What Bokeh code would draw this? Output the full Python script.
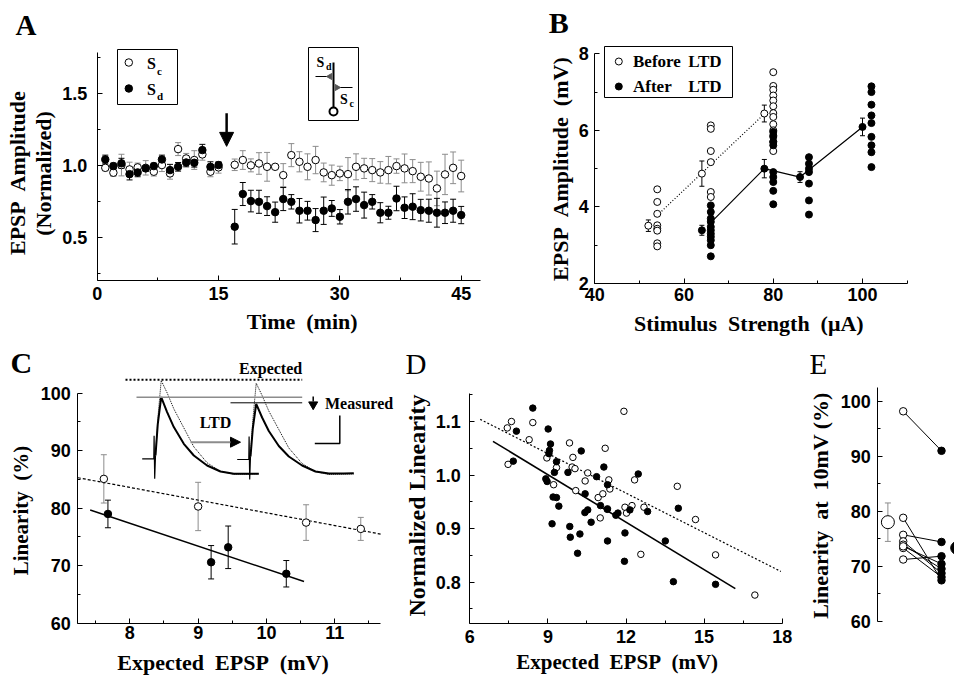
from bokeh.plotting import figure
from bokeh.layouts import column, row
from bokeh.models import (FixedTicker, NumeralTickFormatter, Label, Whisker, TeeHead,
                          ColumnDataSource, Arrow, NormalHead, Range1d)
from bokeh.embed import file_html
from bokeh.resources import INLINE
import math

SERIF = "Liberation Serif"
SANS = "Liberation Sans"
GRAY = "#8c8c8c"

# ---------------- Panel A : time course ----------------
a_time = list(range(1, 16)) + list(range(17, 46))
a_sc = [0.986, 0.952, 1.005, 0.975, 0.989, 0.986, 0.959, 1.005, 0.947, 1.116, 1.051, 1.040, 1.079, 0.959, 0.989,
        1.007, 1.040, 1.003, 1.016, 0.993, 0.993, 0.935, 1.074, 1.028, 0.993, 1.040, 0.954, 0.935, 0.947, 0.942,
        0.993, 0.982, 0.970, 0.954, 0.970, 0.998, 0.982, 0.963, 0.924, 0.912, 0.843, 0.940, 0.986, 0.929]
a_sc_err = [0.02, 0.025, 0.075, 0.05, 0.03, 0.05, 0.03, 0.045, 0.04, 0.045, 0.035, 0.065, 0.04, 0.035, 0.04,
            0.04, 0.065, 0.045, 0.075, 0.1, 0.01, 0.08, 0.08, 0.07, 0.09, 0.095, 0.065, 0.07, 0.05, 0.115,
            0.09, 0.07, 0.08, 0.075, 0.095, 0.05, 0.1, 0.08, 0.1, 0.115, 0.12, 0.14, 0.11, 0.11]
a_sd = [1.044, 0.998, 1.017, 0.942, 0.954, 0.982, 0.998, 1.044, 0.970, 0.993, 1.023, 1.021, 1.109, 0.993, 1.005,
        0.577, 0.804, 0.755, 0.750, 0.720, 0.678, 0.769, 0.750, 0.688, 0.688, 0.623, 0.688, 0.704, 0.646, 0.750,
        0.769, 0.727, 0.750, 0.674, 0.674, 0.773, 0.709, 0.716, 0.692, 0.688, 0.674, 0.674, 0.688, 0.658]
a_sd_err = [0.03, 0.02, 0.035, 0.04, 0.03, 0.02, 0.02, 0.03, 0.04, 0.03, 0.03, 0.03, 0.04, 0.035, 0.02,
            0.12, 0.08, 0.075, 0.08, 0.065, 0.07, 0.08, 0.05, 0.085, 0.065, 0.08, 0.095, 0.055, 0.05, 0.085,
            0.085, 0.09, 0.05, 0.07, 0.045, 0.085, 0.075, 0.09, 0.075, 0.08, 0.1, 0.075, 0.08, 0.06]
a_ltd_time = 16
a_arrow_from, a_arrow_to = 1.365, 1.135

# ---------------- Panel B : input-output ----------------
b_before_x = [54] * 8 + [66] * 6 + [80] * 13
b_before_y = [4.46, 4.13, 3.82, 3.52, 3.43, 3.38, 3.05, 2.97,
              6.13, 6.04, 5.46, 5.17, 4.39, 4.26,
              7.52, 7.16, 7.06, 6.91, 6.78, 6.63, 6.45, 6.35, 6.16, 6.00, 5.87, 5.70, 5.46]
b_after_x = [66] * 11 + [80] * 9 + [88] * 7 + [102] * 9
b_after_y = [4.04, 3.87, 3.70, 3.61, 3.48, 3.39, 3.30, 3.22, 3.13, 3.00, 2.71,
             5.96, 5.83, 5.70, 5.61, 4.91, 4.78, 4.65, 4.42, 4.07,
             5.30, 5.13, 5.00, 4.91, 4.61, 4.17, 3.80,
             7.15, 7.00, 6.67, 6.39, 6.19, 5.83, 5.61, 5.43, 5.04]
b_before_mean_x = [52, 64, 78]
b_before_mean = [3.51, 4.87, 6.44]
b_before_sem = [0.15, 0.33, 0.22]
b_after_mean_x = [64, 78, 86, 100]
b_after_mean = [3.39, 5.00, 4.78, 6.09]
b_after_sem = [0.13, 0.24, 0.14, 0.23]
b_before_fit_x = [54, 78]
b_before_fit_y = [3.78, 6.43]
b_after_line_x = [66.5, 78, 86, 100]
b_after_line_y = [3.65, 5.00, 4.78, 6.09]

# ---------------- Panel C : linearity vs expected ----------------
c_before_x = [7.62, 9.00, 10.58, 11.38]
c_before_y = [85.1, 80.3, 77.5, 76.4]
c_before_err = [4.2, 4.2, 3.1, 2.0]
c_after_x = [7.68, 9.19, 9.44, 10.29]
c_after_y = [79.0, 70.6, 73.2, 68.6]
c_after_err = [2.4, 2.9, 3.7, 2.3]
c_fit_before_x = [7.24, 11.67]
c_fit_before_y = [85.3, 75.5]
c_fit_after_x = [7.42, 10.55]
c_fit_after_y = [79.7, 67.25]
# inset waveforms (offsets from stimulus, inset units)
w_t = [1.7, 4, 7.4, 13.3, 20, 30, 40, 53.3, 66.7, 80, 95, 105]
w_measured_pre = [3.3, 35, 61.7, 46.7, 31.7, 15, 3.3, -6.7, -12.7, -15, -15, -15]
w_expected_pre = [3.3, 40, 78.3, 66, 50, 31, 12, -4, -12.5, -15.5, -15.5, -15]
w_measured_post = [3.0, 31, 55.7, 42, 28.5, 13.5, 3.0, -6.0, -12, -14, -14, -13.7]
w_expected_post = [3.3, 39, 76.3, 64, 48.5, 30, 11.5, -4, -12.2, -15, -14.7, -14.5]
w_art_t = [-11.6, 0, 0.3, 0.9, 1.7]
w_art_v = [0, 0, 23, -20, 3.3]

# ---------------- Panel D : normalized linearity ----------------
d_open_x = [7.44, 7.60, 8.42, 7.47, 8.28, 11.92, 9.83, 11.20, 9.96, 8.96, 9.33, 9.93, 10.04, 10.53, 10.43,
            9.22, 11.34, 11.38, 12.33, 10.07, 10.93, 11.11, 11.29, 11.96, 12.23, 12.69, 12.02, 11.01, 12.57,
            13.97, 14.67, 15.44, 16.95]
d_open_y = [1.088, 1.100, 1.098, 1.020, 1.066, 1.119, 1.060, 1.050, 1.033, 1.032, 1.014, 1.015, 1.012, 1.004,
            0.989, 0.982, 0.991, 0.974, 0.991, 0.971, 0.958, 0.965, 0.937, 0.940, 0.943, 0.940, 0.929, 0.920,
            0.852, 0.979, 0.917, 0.851, 0.776]
d_filled_x = [8.42, 7.79, 9.01, 9.10, 9.06, 9.04, 10.28, 9.33, 7.67, 9.25, 9.77, 8.92, 8.97, 11.15, 10.87,
              11.29, 10.43, 9.20, 9.33, 9.42, 12.47, 11.02, 11.28, 10.53, 10.42, 11.61, 11.69, 12.15, 12.83,
              10.66, 9.16, 9.84, 9.86, 10.23, 11.96, 10.14, 11.29, 13.51, 11.94, 14.01, 13.82, 15.44]
d_filled_y = [1.125, 1.082, 1.086, 1.058, 1.046, 1.040, 1.045, 1.025, 1.026, 1.005, 1.005, 0.993, 0.988, 1.015,
              0.997, 0.982, 0.965, 0.959, 0.958, 0.942, 1.002, 0.943, 0.936, 0.935, 0.930, 0.925, 0.929, 0.935,
              0.932, 0.912, 0.909, 0.904, 0.884, 0.890, 0.892, 0.854, 0.877, 0.877, 0.839, 0.938, 0.801, 0.796]
d_fit_open_x = [6.4, 17.95]
d_fit_open_y = [1.104, 0.820]
d_fit_filled_x = [6.89, 16.2]
d_fit_filled_y = [1.063, 0.788]

# ---------------- Panel E : linearity at 10 mV ----------------
e_before = [98.2, 78.8, 75.7, 74.5, 73.9, 73.3, 73.6, 71.2]
e_after = [91.0, 67.4, 74.4, 68.7, 69.5, 68.0, 70.4, 71.8]
e_before_mean, e_before_sem = 78.0, 3.5
e_after_mean = 73.3
e_pos = [0.6, 1.0, 2.0, 2.41]   # mean-before, before, after, mean-after


def make_panel(fig_x0, fig_y0, fig_w, fig_h, xcal, ycal):
    (v1, p1), (v2, p2) = xcal
    kx = (v2 - v1) / (p2 - p1)
    (w1, q1), (w2, q2) = ycal
    ky = (w2 - w1) / (q2 - q1)
    fx = lambda px: v1 + (px - p1) * kx
    fy = lambda py: w1 + (py - q1) * ky
    p = figure(width=fig_w, height=fig_h,
               x_range=Range1d(fx(fig_x0), fx(fig_x0 + fig_w)),
               y_range=Range1d(fy(fig_y0 + fig_h), fy(fig_y0)),
               output_backend="svg", toolbar_location=None,
               min_border_left=0, min_border_right=0, min_border_top=0, min_border_bottom=0)
    p.title.visible = False
    p.outline_line_color = None
    p.xgrid.visible = False
    p.ygrid.visible = False
    for ax in p.axis:
        ax.major_tick_in = 5
        ax.major_tick_out = 0
        ax.minor_tick_in = 3
        ax.minor_tick_out = 0
        ax.axis_line_color = "black"
        ax.major_tick_line_color = "black"
        ax.minor_tick_line_color = "black"
        ax.major_label_text_font = SANS
        ax.major_label_text_font_style = "bold"
        ax.major_label_text_font_size = "18px"
        ax.major_label_text_color = "black"
    return p, fx, fy


def lab(p, x, y, text, size, style="bold", align="left", font=SERIF, angle=0.0):
    p.add_layout(Label(x=x, y=y, text=text, text_font=font, text_font_style=style,
                       text_font_size=f"{size}px", text_align=align, text_baseline="middle",
                       text_color="black", angle=angle))


def vlab(p, x, y, text, size):
    lab(p, x, y, text, size, align="center", angle=math.pi / 2)


def whisk(p, xs, ys, es, color, head=6):
    src = ColumnDataSource(dict(x=xs, lo=[y - e for y, e in zip(ys, es)], hi=[y + e for y, e in zip(ys, es)]))
    p.add_layout(Whisker(base="x", upper="hi", lower="lo", source=src, dimension="height",
                         line_color=color, line_width=1, level="underlay",
                         upper_head=TeeHead(size=head, line_color=color, line_width=1),
                         lower_head=TeeHead(size=head, line_color=color, line_width=1)))


# ======================= A =======================
pA, ax_, ay_ = make_panel(0, 0, 490, 340, ((0, 96.7), (45, 460.7)), ((1.5, 93.3), (0.5, 237.3)))
pA.xaxis.ticker = FixedTicker(ticks=[0, 15, 30, 45], minor_ticks=[7.5, 22.5, 37.5])
pA.yaxis.ticker = FixedTicker(ticks=[0.5, 1.0, 1.5], minor_ticks=[0.25, 0.75, 1.25, 1.75])
pA.yaxis.formatter = NumeralTickFormatter(format="0.0")
pA.xaxis.fixed_location = ay_(280)
pA.yaxis.fixed_location = 0
pA.xaxis.bounds = (0, ax_(480))
pA.yaxis.bounds = (ay_(280), ay_(51.7))
pA.yaxis.major_label_standoff = 10
pA.xaxis.major_label_standoff = 6
whisk(pA, a_time, a_sc, a_sc_err, GRAY)
whisk(pA, a_time, a_sd, a_sd_err, "black")
pA.scatter(a_time, a_sc, size=7.5, marker="circle", fill_color="white", line_color="black", line_width=1)
pA.scatter(a_time, a_sd, size=7.5, marker="circle", fill_color="black", line_color="black")
pA.add_layout(Arrow(end=NormalHead(size=14, fill_color="black", line_color="black"),
                    x_start=a_ltd_time, y_start=a_arrow_from, x_end=a_ltd_time, y_end=a_arrow_to,
                    line_width=2.5, line_color="black"))
# legend box
pA.quad(left=[ax_(117)], right=[ax_(177)], top=[ay_(49)], bottom=[ay_(104)],
        fill_color="white", line_color="black", line_width=1)
pA.scatter([ax_(128.3)], [ay_(62)], size=7.5, fill_color="white", line_color="black")
pA.scatter([ax_(128.3)], [ay_(88)], size=7.5, fill_color="black", line_color="black")
lab(pA, ax_(146.5), ay_(63.3), "S", 16)
lab(pA, ax_(156.5), ay_(70.5), "c", 11)
lab(pA, ax_(146.5), ay_(88.7), "S", 16)
lab(pA, ax_(156.5), ay_(95), "d", 11)
# inset schematic
pA.quad(left=[ax_(308)], right=[ax_(358)], top=[ay_(47)], bottom=[ay_(120)],
        fill_color="white", line_color="black", line_width=1)
pA.line([ax_(333), ax_(333)], [ay_(62), ay_(107)], line_color="black", line_width=2)
pA.scatter([ax_(333)], [ay_(111)], size=8, fill_color="white", line_color="black", line_width=2)
pA.line([ax_(315), ax_(329)], [ay_(76), ay_(76)], line_color="black", line_width=1.2)
pA.line([ax_(337.5), ax_(352)], [ay_(87), ay_(87)], line_color="black", line_width=1.2)
pA.scatter([ax_(329.5)], [ay_(76)], size=6, marker="triangle", angle=math.pi / 2,
           fill_color="#555555", line_color="#555555")
pA.scatter([ax_(336.5)], [ay_(87)], size=6, marker="triangle", angle=-math.pi / 2,
           fill_color="#555555", line_color="#555555")
lab(pA, ax_(316), ay_(62.3), "S", 14)
lab(pA, ax_(325.5), ay_(65.5), "d", 10)
lab(pA, ax_(339.5), ay_(99), "S", 14)
lab(pA, ax_(349), ay_(103), "c", 10)
# texts
lab(pA, ax_(15), ay_(24.2), "A", 29)
vlab(pA, ax_(16.7), ay_(172), "EPSP\u00a0 Amplitude", 22)
vlab(pA, ax_(43.3), ay_(173), "(Normalized)", 22)
lab(pA, ax_(301.7), ay_(320.7), "Time\u00a0 (min)", 22, align="center")

# ======================= B =======================
pB, bx, by = make_panel(490, 0, 464, 340, ((40, 594.3), (100, 862)), ((8, 53.3), (2, 283)))
pB.xaxis.ticker = FixedTicker(ticks=[40, 60, 80, 100], minor_ticks=[50, 70, 90, 110])
pB.yaxis.ticker = FixedTicker(ticks=[2, 4, 6, 8], minor_ticks=[3, 5, 7])
pB.xaxis.fixed_location = 2
pB.yaxis.fixed_location = 40
pB.xaxis.bounds = (40, bx(906.7))
pB.yaxis.bounds = (2, 8)
pB.yaxis.major_label_standoff = 6
pB.xaxis.major_label_standoff = 4
pB.line(b_before_fit_x, b_before_fit_y, line_color="black", line_width=1.2, line_dash="1 2")
pB.line(b_after_line_x, b_after_line_y, line_color="black", line_width=1.2)
whisk(pB, b_before_mean_x, b_before_mean, b_before_sem, "black", head=5)
whisk(pB, b_after_mean_x, b_after_mean, b_after_sem, "black", head=5)
pB.scatter(b_before_x, b_before_y, size=7, fill_color="white", line_color="black")
pB.scatter(b_before_mean_x, b_before_mean, size=7, fill_color="white", line_color="black")
pB.scatter(b_after_x, b_after_y, size=7, fill_color="black", line_color="black")
pB.scatter(b_after_mean_x, b_after_mean, size=7, fill_color="black", line_color="black")
pB.quad(left=[bx(604)], right=[bx(732)], top=[by(46)], bottom=[by(97)],
        fill_color="white", line_color="black", line_width=1)
pB.scatter([bx(618.3)], [by(61)], size=7, fill_color="white", line_color="black")
pB.scatter([bx(618.3)], [by(86)], size=7, fill_color="black", line_color="black")
lab(pB, bx(632.5), by(60.7), "Before", 17)
lab(pB, bx(687.7), by(60.7), "LTD", 17)
lab(pB, bx(632.5), by(86), "After", 17)
lab(pB, bx(687.7), by(86), "LTD", 17)
lab(pB, bx(548.3), by(21.7), "B", 30)
vlab(pB, bx(560), by(168), "EPSP\u00a0 Amplitude\u00a0 (mV)", 22)
lab(pB, bx(748.3), by(322.5), "Stimulus\u00a0 Strength\u00a0 (\u03bcA)", 22, align="center")

# ======================= C =======================
pC, cx, cy = make_panel(0, 340, 394, 335, ((8, 129.3), (11, 334.3)), ((100, 392.7), (60, 622.7)))
pC.xaxis.ticker = FixedTicker(ticks=[8, 9, 10, 11], minor_ticks=[7.5, 8.5, 9.5, 10.5, 11.5])
pC.yaxis.ticker = FixedTicker(ticks=[60, 70, 80, 90, 100], minor_ticks=[65, 75, 85, 95])
pC.xaxis.fixed_location = 60
pC.yaxis.fixed_location = cx(77.3)
pC.yaxis.bounds = (60, 100)
pC.xaxis.bounds = (cx(77.3), cx(380))
pC.yaxis.major_label_standoff = 7
pC.xaxis.major_label_standoff = 3
pC.line(c_fit_before_x, c_fit_before_y, line_color="black", line_width=1.2, line_dash="3 2")
pC.line(c_fit_after_x, c_fit_after_y, line_color="black", line_width=1.5)
whisk(pC, c_before_x, c_before_y, c_before_err, GRAY)
whisk(pC, c_after_x, c_after_y, c_after_err, "black")
pC.scatter(c_before_x, c_before_y, size=7.5, fill_color="white", line_color="black")
pC.scatter(c_after_x, c_after_y, size=7.5, fill_color="black", line_color="black")
# inset
for ox, oy, meas, expc in ((153.3, 458.3, w_measured_pre, w_expected_pre),
                           (248.3, 459.0, w_measured_post, w_expected_post)):
    pC.line([cx(ox + t) for t in w_art_t], [cy(oy - v) for v in w_art_v], line_color="black", line_width=1.2)
    pC.line([cx(ox + t) for t in w_t], [cy(oy - v) for v in expc], line_color="black", line_width=1,
            line_dash="1 1")
    pC.line([cx(ox + t) for t in w_t], [cy(oy - v) for v in meas], line_color="black", line_width=2)
pC.line([cx(125), cx(301.7)], [cy(379.3), cy(379.3)], line_color="black", line_width=2, line_dash="2 2")
pC.line([cx(136), cx(301.7)], [cy(396.7), cy(396.7)], line_color=GRAY, line_width=1.5)
pC.line([cx(230), cx(301.7)], [cy(402.3), cy(402.3)], line_color="black", line_width=1)
pC.line([cx(312.7), cx(312.7)], [cy(396), cy(401)], line_color="black", line_width=1.5)
pC.scatter([cx(312.7)], [cy(404)], size=9, marker="inverted_triangle", fill_color="black", line_color="black")
pC.add_layout(Arrow(end=NormalHead(size=10, fill_color="black", line_color="black"),
                    x_start=cx(190), y_start=cy(441.7), x_end=cx(240), y_end=cy(441.7),
                    line_width=2, line_color=GRAY))
pC.line([cx(314.3), cx(339.3), cx(339.3)], [cy(443), cy(443), cy(415)], line_color="black", line_width=1.5)
lab(pC, cx(301.7), cy(368.3), "Expected", 16, align="right")
lab(pC, cx(324.5), cy(403.3), "Measured", 16)
lab(pC, cx(215), cy(421.7), "LTD", 16, align="center")
lab(pC, cx(10), cy(361.7), "C", 30)
vlab(pC, cx(20), cy(510), "Linearity\u00a0 (%)", 21)
lab(pC, cx(222.5), cy(661.5), "Expected\u00a0 EPSP\u00a0 (mV)", 22, align="center")

# ======================= D =======================
pD, dx, dy = make_panel(394, 340, 401, 335, ((6, 469.3), (18, 781.7)), ((1.1, 421), (0.8, 581.7)))
pD.xaxis.ticker = FixedTicker(ticks=[6, 9, 12, 15, 18], minor_ticks=[7.5, 10.5, 13.5, 16.5])
pD.yaxis.ticker = FixedTicker(ticks=[0.8, 0.9, 1.0, 1.1], minor_ticks=[0.75, 0.85, 0.95, 1.05, 1.15])
pD.yaxis.formatter = NumeralTickFormatter(format="0.0")
pD.xaxis.fixed_location = dy(622.7)
pD.yaxis.fixed_location = 6
pD.xaxis.bounds = (6, 18)
pD.yaxis.bounds = (dy(622.7), dy(392.7))
pD.yaxis.major_label_standoff = 9
pD.xaxis.major_label_standoff = 7
pD.line(d_fit_open_x, d_fit_open_y, line_color="black", line_width=1.2, line_dash="2 2")
pD.line(d_fit_filled_x, d_fit_filled_y, line_color="black", line_width=1.6)
pD.scatter(d_open_x, d_open_y, size=6.5, fill_color="white", line_color="black")
pD.scatter(d_filled_x, d_filled_y, size=6.5, fill_color="black", line_color="black")
lab(pD, dx(405), dy(363.3), "D", 29, style="normal")
vlab(pD, dx(416.7), dy(505), "Normalized Linearity", 24)
lab(pD, dx(616.7), dy(661.7), "Expected\u00a0 EPSP\u00a0 (mV)", 21, align="center")

# ======================= E =======================
pE, ex, ey = make_panel(795, 340, 159, 335, ((1, 902.7), (2, 941)), ((100, 400.9), (60, 620.5)))
pE.xaxis.visible = False
pE.yaxis.ticker = FixedTicker(ticks=[60, 70, 80, 90, 100], minor_ticks=[65, 75, 85, 95])
pE.yaxis.fixed_location = ex(877.3)
pE.yaxis.bounds = (60, ey(387))
pE.yaxis.major_label_standoff = 7
for b, a in zip(e_before, e_after):
    pE.line([e_pos[1], e_pos[2]], [b, a], line_color="black", line_width=1)
whisk(pE, [e_pos[0]], [e_before_mean], [e_before_sem], GRAY)
pE.scatter([e_pos[1]] * len(e_before), e_before, size=7.5, fill_color="white", line_color="black")
pE.scatter([e_pos[2]] * len(e_after), e_after, size=7.5, fill_color="black", line_color="black")
pE.scatter([e_pos[0]], [e_before_mean], size=13, fill_color="white", line_color="black")
pE.scatter([e_pos[3]], [e_after_mean], size=13, fill_color="black", line_color="black")
lab(pE, ex(809), ey(363.5), "E", 29, style="normal")
vlab(pE, ex(820), ey(505), "Linearity\u00a0 at\u00a0 10mV (%)", 22)

layout = column(row(pA, pB), row(pC, pD, pE))
open("out.html", "w").write(file_html(layout, INLINE))
